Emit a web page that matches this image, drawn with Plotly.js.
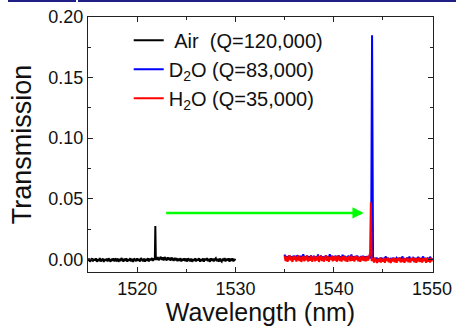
<!DOCTYPE html>
<html>
<head>
<meta charset="utf-8">
<script src="https://cdn.plot.ly/plotly-3.0.1.min.js"></script>
<style>
html,body{margin:0;padding:0;background:#fff;}
#chart{width:456px;height:326px;}
</style>
</head>
<body>
<div id="chart"></div>
<script>
// ---- Data ----
const airX = [
 1515.0,1515.1,1515.2,1515.3,1515.4,1515.5,1515.6,1515.7,1515.8,1515.9,
 1516.0,1516.1,1516.2,1516.3,1516.4,1516.5,1516.6,1516.7,1516.8,1516.9,
 1517.0,1517.1,1517.2,1517.3,1517.4,1517.5,1517.6,1517.7,1517.8,1517.9,
 1518.0,1518.1,1518.2,1518.3,1518.4,1518.5,1518.6,1518.7,1518.8,1518.9,
 1519.0,1519.1,1519.2,1519.3,1519.4,1519.5,1519.6,1519.7,1519.8,1519.9,
 1520.0,1520.1,1520.2,1520.3,1520.4,1520.5,1520.6,1520.7,1520.8,1520.9,
 1521.0,1521.1,1521.2,1521.3,1521.4,1521.5,1521.6,1521.7,1521.8,1521.85,1521.9,
 1522.0,1522.1,1522.2,1522.3,1522.4,1522.5,1522.6,1522.7,1522.8,1522.9,
 1523.0,1523.1,1523.2,1523.3,1523.4,1523.5,1523.6,1523.7,1523.8,1523.9,
 1524.0,1524.1,1524.2,1524.3,1524.4,1524.5,1524.6,1524.7,1524.8,1524.9,
 1525.0,1525.1,1525.2,1525.3,1525.4,1525.5,1525.6,1525.7,1525.8,1525.9,
 1526.0,1526.1,1526.2,1526.3,1526.4,1526.5,1526.6,1526.7,1526.8,1526.9,
 1527.0,1527.1,1527.2,1527.3,1527.4,1527.5,1527.6,1527.7,1527.8,1527.9,
 1528.0,1528.1,1528.2,1528.3,1528.4,1528.5,1528.6,1528.7,1528.8,1528.9,
 1529.0,1529.1,1529.2,1529.3,1529.4,1529.5,1529.6,1529.7,1529.8,1529.9,
 1530.0];
const airY = [
 -0.0015,0.0006,-0.0020,-0.0002,0.0009,-0.0018,0.0003,-0.0011,0.0008,-0.0021,
 0.0002,-0.0014,0.0010,-0.0019,-0.0004,0.0007,-0.0022,0.0001,-0.0012,0.0006,
 -0.0017,0.0009,-0.0008,-0.0020,0.0004,-0.0013,0.0008,-0.0018,0.0000,-0.0010,
 0.0007,-0.0021,0.0003,-0.0015,0.0010,-0.0009,-0.0019,0.0005,-0.0014,0.0008,
 -0.0020,0.0001,-0.0011,0.0009,-0.0017,0.0004,-0.0022,0.0007,-0.0006,-0.0016,
 0.0008,-0.0013,0.0003,-0.0019,0.0010,-0.0008,-0.0015,0.0006,-0.0020,0.0004,
 -0.0012,0.0009,-0.0017,0.0005,-0.0009,0.0011,-0.0014,0.0008,-0.0006,0.0275,0.0012,
 -0.0004,0.0018,-0.0008,0.0014,0.0021,-0.0006,0.0016,-0.0010,0.0019,0.0002,
 -0.0009,0.0017,-0.0005,0.0013,-0.0011,0.0015,0.0003,-0.0013,0.0012,-0.0008,
 0.0010,-0.0015,0.0006,-0.0012,0.0009,-0.0018,0.0004,-0.0010,0.0008,-0.0016,
 0.0005,-0.0019,0.0009,-0.0008,-0.0017,0.0006,-0.0021,0.0002,-0.0013,0.0008,
 -0.0018,0.0004,-0.0010,0.0009,-0.0020,0.0001,-0.0014,0.0007,-0.0019,0.0005,
 -0.0008,0.0010,-0.0016,0.0003,-0.0021,0.0008,-0.0012,0.0005,-0.0018,0.0000,
 0.0009,-0.0015,0.0004,-0.0020,0.0007,-0.0011,-0.0019,0.0006,-0.0014,0.0010,
 -0.0017,0.0003,-0.0009,0.0008,-0.0021,0.0005,-0.0013,0.0007,-0.0018,0.0002,
 -0.0010];

const d2oX = [
 1535.0,1535.1,1535.2,1535.3,1535.4,1535.5,1535.6,1535.7,1535.8,1535.9,
 1536.0,1536.1,1536.2,1536.3,1536.4,1536.5,1536.6,1536.7,1536.8,1536.9,
 1537.0,1537.1,1537.2,1537.3,1537.4,1537.5,1537.6,1537.7,1537.8,1537.9,
 1538.0,1538.1,1538.2,1538.3,1538.4,1538.5,1538.6,1538.7,1538.8,1538.9,
 1539.0,1539.1,1539.2,1539.3,1539.4,1539.5,1539.6,1539.7,1539.8,1539.9,
 1540.0,1540.1,1540.2,1540.3,1540.4,1540.5,1540.6,1540.7,1540.8,1540.9,
 1541.0,1541.1,1541.2,1541.3,1541.4,1541.5,1541.6,1541.7,1541.8,1541.9,
 1542.0,1542.1,1542.2,1542.3,1542.4,1542.5,1542.6,1542.7,1542.8,1542.9,
 1543.0,1543.1,1543.2,1543.3,1543.4,1543.5,1543.6,1543.7,1543.8,
 1543.9,1544.0,
 1544.1,1544.2,1544.3,1544.4,1544.5,1544.6,1544.7,1544.8,1544.9,
 1545.0,1545.1,1545.2,1545.3,1545.4,1545.5,1545.6,1545.7,1545.8,1545.9,
 1546.0,1546.1,1546.2,1546.3,1546.4,1546.5,1546.6,1546.7,1546.8,1546.9,
 1547.0,1547.1,1547.2,1547.3,1547.4,1547.5,1547.6,1547.7,1547.8,1547.9,
 1548.0,1548.1,1548.2,1548.3,1548.4,1548.5,1548.6,1548.7,1548.8,1548.9,
 1549.0,1549.1,1549.2,1549.3,1549.4,1549.5,1549.6,1549.7,1549.8,1549.9,
 1550.0];
const d2oY = [
 0.0040,0.0005,0.0028,-0.0003,0.0020,0.0031,0.0002,0.0025,-0.0004,0.0030,
 0.0010,0.0027,-0.0002,0.0033,0.0015,0.0004,0.0029,-0.0005,0.0022,0.0041,
 0.0003,0.0026,0.0012,0.0030,-0.0001,0.0024,0.0006,0.0032,0.0000,0.0019,
 0.0028,0.0002,0.0023,0.0009,0.0039,-0.0003,0.0021,0.0030,0.0004,0.0025,
 -0.0002,0.0018,0.0031,0.0005,0.0027,0.0000,0.0042,0.0008,0.0029,0.0001,
 0.0026,0.0006,0.0030,-0.0004,0.0020,0.0033,0.0003,0.0024,0.0000,0.0038,
 0.0007,0.0029,0.0001,0.0022,-0.0003,0.0031,0.0010,0.0004,0.0040,0.0002,
 0.0025,-0.0002,0.0028,0.0008,0.0030,0.0001,0.0021,-0.0004,0.0027,0.0006,
 0.0029,0.0003,0.0024,0.0000,0.0026,0.0005,0.0022,0.0012,0.0020,
 0.1850,0.0010,
 -0.0012,0.0010,-0.0006,0.0013,-0.0015,0.0008,-0.0010,0.0014,-0.0004,
 0.0011,-0.0013,0.0009,0.0022,-0.0008,0.0012,-0.0014,0.0006,0.0010,-0.0011,
 0.0013,-0.0007,0.0009,-0.0015,0.0012,0.0004,-0.0010,0.0014,-0.0012,0.0008,
 0.0023,-0.0009,0.0011,-0.0013,0.0007,0.0014,-0.0008,0.0024,-0.0011,0.0010,
 -0.0014,0.0012,0.0005,-0.0010,0.0013,-0.0012,0.0021,-0.0006,0.0011,-0.0013,
 0.0009,0.0024,-0.0010,0.0012,-0.0014,0.0008,0.0013,-0.0011,0.0022,-0.0007,
 0.0012];

const h2oX = [
 1535.0,1535.1,1535.2,1535.3,1535.4,1535.5,1535.6,1535.7,1535.8,1535.9,
 1536.0,1536.1,1536.2,1536.3,1536.4,1536.5,1536.6,1536.7,1536.8,1536.9,
 1537.0,1537.1,1537.2,1537.3,1537.4,1537.5,1537.6,1537.7,1537.8,1537.9,
 1538.0,1538.1,1538.2,1538.3,1538.4,1538.5,1538.6,1538.7,1538.8,1538.9,
 1539.0,1539.1,1539.2,1539.3,1539.4,1539.5,1539.6,1539.7,1539.8,1539.9,
 1540.0,1540.1,1540.2,1540.3,1540.4,1540.5,1540.6,1540.7,1540.8,1540.9,
 1541.0,1541.1,1541.2,1541.3,1541.4,1541.5,1541.6,1541.7,1541.8,1541.9,
 1542.0,1542.1,1542.2,1542.3,1542.4,1542.5,1542.6,1542.7,1542.8,1542.9,
 1543.0,1543.1,1543.2,1543.3,1543.4,1543.5,1543.6,
 1543.7,1543.78,1543.86,
 1544.0,1544.1,1544.2,1544.3,1544.4,1544.5,1544.6,1544.7,1544.8,1544.9,
 1545.0,1545.1,1545.2,1545.3,1545.4,1545.5,1545.6,1545.7,1545.8,1545.9,
 1546.0,1546.1,1546.2,1546.3,1546.4,1546.5,1546.6,1546.7,1546.8,1546.9,
 1547.0,1547.1,1547.2,1547.3,1547.4,1547.5,1547.6,1547.7,1547.8,1547.9,
 1548.0,1548.1,1548.2,1548.3,1548.4,1548.5,1548.6,1548.7,1548.8,1548.9,
 1549.0,1549.1,1549.2,1549.3,1549.4,1549.5,1549.6,1549.7,1549.8,1549.9,
 1550.0];
const h2oY = [
 0.0030,-0.0015,0.0022,-0.0020,0.0008,0.0033,-0.0010,0.0018,-0.0022,0.0025,
 -0.0005,0.0028,-0.0018,0.0012,0.0031,-0.0014,0.0020,-0.0021,0.0005,0.0027,
 -0.0016,0.0024,-0.0008,0.0032,-0.0019,0.0015,-0.0012,0.0029,-0.0020,0.0010,
 0.0026,-0.0017,0.0019,-0.0009,0.0030,-0.0021,0.0013,0.0028,-0.0015,0.0021,
 -0.0019,0.0008,0.0031,-0.0013,0.0023,-0.0020,0.0017,-0.0006,0.0029,-0.0016,
 0.0024,-0.0011,0.0027,-0.0020,0.0012,0.0030,-0.0014,0.0019,-0.0018,0.0025,
 -0.0008,0.0028,-0.0017,0.0016,-0.0021,0.0026,0.0003,-0.0015,0.0029,-0.0012,
 0.0020,-0.0019,0.0025,-0.0007,0.0027,-0.0016,0.0014,-0.0020,0.0023,-0.0010,
 0.0026,-0.0014,0.0019,-0.0017,0.0024,-0.0009,0.0021,
 0.0050,0.0470,-0.0015,
 0.0008,-0.0026,0.0012,-0.0018,-0.0030,0.0005,-0.0022,0.0013,-0.0027,0.0002,
 -0.0019,0.0010,-0.0029,0.0006,-0.0014,0.0014,-0.0025,0.0001,-0.0031,0.0009,
 -0.0017,0.0012,-0.0024,0.0004,-0.0028,0.0011,-0.0013,0.0015,-0.0026,0.0003,
 -0.0021,0.0010,-0.0030,0.0007,-0.0016,0.0013,-0.0024,0.0002,-0.0027,0.0011,
 -0.0012,0.0014,-0.0025,0.0006,-0.0029,0.0009,-0.0018,0.0015,-0.0023,0.0004,
 -0.0027,0.0011,-0.0015,0.0008,-0.0030,0.0013,-0.0020,0.0005,-0.0026,0.0012,
 -0.0018];

const seriesNames = [
 "\u00a0Air\u00a0\u00a0(Q=120,000)",
 "D<sub>2</sub>O (Q=83,000)",
 "H<sub>2</sub>O (Q=35,000)"
];
const xTickVals = [1520, 1530, 1540, 1550];
const yTickVals = [0.00, 0.05, 0.10, 0.15, 0.20];
const arrowStart = {x: 1522.8, y: 0.0383};
const arrowEnd = {x: 1543.05, y: 0.0383};

const FONT = "Liberation Sans, Arial, sans-serif";

const traces = [
 {x: airX, y: airY, name: seriesNames[0], type: 'scatter', mode: 'lines',
  line: {color: '#000000', width: 2}, legendgroup: 'a'},
 {x: d2oX, y: d2oY, name: seriesNames[1], type: 'scatter', mode: 'lines',
  line: {color: '#0000ff', width: 2}, legendgroup: 'b'},
 {x: h2oX, y: h2oY, name: seriesNames[2], type: 'scatter', mode: 'lines',
  line: {color: '#ff0000', width: 2}, legendgroup: 'c'}
];

const axisCommon = {
  showgrid: false, zeroline: false, showline: true, linecolor: '#222', linewidth: 1,
  mirror: 'ticks', ticks: 'inside', ticklen: 5, tickwidth: 1, tickcolor: '#222',
  tickfont: {family: FONT, size: 18, color: '#111'}
};

const layout = {
  width: 456, height: 326,
  margin: {l: 88, r: 23, t: 17, b: 54, pad: 0},
  paper_bgcolor: '#fff', plot_bgcolor: '#fff',
  showlegend: true,
  legend: {x: 0.118, y: 0.985, xanchor: 'left', yanchor: 'top',
    bgcolor: 'rgba(0,0,0,0)', borderwidth: 0, tracegroupgap: 0,
    font: {family: FONT, size: 20, color: '#111'}, itemwidth: 30},
  xaxis: Object.assign({}, axisCommon, {
    range: [1515, 1550.1], tickvals: xTickVals,
    minor: {dtick: 5, tick0: 1515, ticks: 'inside', ticklen: 3, tickcolor: '#222'},
    title: {text: 'Wavelength (nm)', font: {family: FONT, size: 25, color: '#111'}, standoff: 4}
  }),
  yaxis: Object.assign({}, axisCommon, {
    range: [-0.0105, 0.2], tickvals: yTickVals, tickformat: '.2f',
    minor: {dtick: 0.025, tick0: 0, ticks: 'inside', ticklen: 3, tickcolor: '#222'},
    title: {text: 'Transmission', font: {family: FONT, size: 27, color: '#111'}, standoff: 8}
  }),
  annotations: [{
    x: arrowEnd.x, y: arrowEnd.y, ax: arrowStart.x, ay: arrowStart.y,
    xref: 'x', yref: 'y', axref: 'x', ayref: 'y', text: '',
    showarrow: true, arrowhead: 2, arrowsize: 0.9, arrowwidth: 2.5, arrowcolor: '#00ff00',
    standoff: 0, startstandoff: 0
  }],
  shapes: [
    {type: 'rect', xref: 'paper', yref: 'paper', x0: -0.2319, x1: -0.0348, y0: 1.0588, y1: 1.0667,
     fillcolor: '#1f1f86', line: {width: 0}, layer: 'above'},
    {type: 'rect', xref: 'paper', yref: 'paper', x0: -0.0290, x1: 1.0667, y0: 1.0588, y1: 1.0667,
     fillcolor: '#1f1f86', line: {width: 0}, layer: 'above'}
  ]
};

Plotly.newPlot('chart', traces, layout, {displayModeBar: false, staticPlot: true});
</script>
</body>
</html>
